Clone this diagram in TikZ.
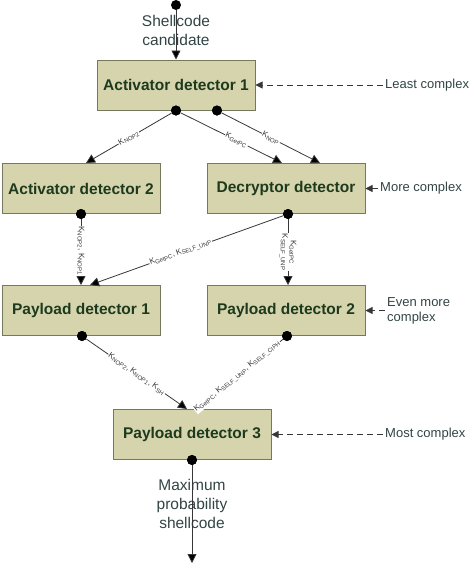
\documentclass[tikz,border=0pt]{standalone}
\usepackage{fontspec}
\setmainfont{Liberation Sans}
\usetikzlibrary{arrows.meta, positioning}

\definecolor{boxfill}{RGB}{214,212,172}
\definecolor{boxline}{RGB}{118,120,94}
\definecolor{boxtext}{RGB}{30,58,30}
\definecolor{notetext}{RGB}{50,68,68}
\definecolor{wire}{RGB}{55,55,55}

\begin{document}
\begin{tikzpicture}[x=1pt, y=-1pt]
	\tikzset {detector/.style={draw=boxline, fill=boxfill, line width=1pt, minimum width=158pt, minimum height=50pt, font=\fontsize{15.5}{18}\selectfont\bfseries, text=boxtext},
		dot/.style={circle, fill=black, inner sep=0pt, minimum size=10pt},
		flow/.style={-{Triangle[length=9pt,width=9pt]}, draw=wire, line width=0.8pt},
		key/.style={fill=white, inner sep=0.6pt, sloped, font=\fontsize{8}{8.5}\selectfont, text=wire, align=center},
		note/.style={font=\fontsize{13}{15}\selectfont, text=notetext, align=left, inner sep=2pt},
		hint/.style={-{Triangle[length=7pt,width=7pt]}, draw=wire, dash pattern=on 6pt off 4pt, line width=0.8pt},
		io/.style={font=\fontsize{15.5}{19}\selectfont, text=notetext, align=center} }
	\useasboundingbox (0,0) rectangle (474,563);

	% detectors
	\node[detector] (a1) at (176,85) {Activator detector 1};
	\node[detector] (a2) at (81,188.5) {Activator detector 2};
	\node[detector] (dc) at (286,188.5) {Decryptor detector};
	\node[detector] (p1) at (81,310.5) {Payload detector 1};
	\node[detector] (p2) at (286,310.5) {Payload detector 2};
	\node[detector] (p3) at (192,434.5) {Payload detector 3};

	% ports
	\node[dot] (in) at (176,5) {};
	\node[dot] (a1l) at (a1.south) {};
	\node[dot] (a1r) at ([xshift=41pt]a1.south) {};
	\node[dot] (a2d) at (a2.south) {};
	\node[dot] (dcd) at ([xshift=2pt]dc.south) {};
	\node[dot] (p1d) at ([xshift=1pt]p1.south) {};
	\node[dot] (p2d) at ([xshift=1pt]p2.south) {};
	\node[dot] (p3d) at (p3.south) {};
	\coordinate (out) at (192,563);

	\node[io] (cand) at (176,30.5) {Shellcode\\candidate};
	\node[io] (maxp) at (192,504) {Maximum\\probability\\shellcode};

	\draw[flow]
		(in) edge (a1)
		(a1l) edge node[key, pos=0.5] {K\textsubscript{NOP2}} ([xshift=5pt]a2.north)
		(a1l) edge node[key, pos=0.55] {K\textsubscript{GetPC}} ([xshift=-4pt]dc.north)
		(a1r) edge node[key, pos=0.5] {K\textsubscript{NOP}} ([xshift=34pt]dc.north)
		(a2d) edge node[key, pos=0.48] {K\textsubscript{NOP2}, K\textsubscript{NOP1}} (a2d |- p1.north)
		(dcd) edge node[key, pos=0.53] {K\textsubscript{GetPC}, K\textsubscript{SELF\_UNP}} ([xshift=9pt]p1.north)
		(dcd) edge node[key, pos=0.5] {K\textsubscript{GetPC}\\K\textsubscript{SELF\_UNP}} (dcd |- p2.north)
		(p1d) edge node[key, pos=0.5] {K\textsubscript{NOP2}, K\textsubscript{NOP1}, K\textsubscript{SH}} ([xshift=-5pt]p3.north)
		(p2d) edge node[key, pos=0.53] {K\textsubscript{GetPC}, K\textsubscript{SELF\_UNP}, K\textsubscript{SELF\_CIPH}} ([xshift=5pt]p3.north)
		(p3d) edge (out);

	% keep the ports on top of the labels
	\foreach \p in {a1l,a1r,a2d,dcd,p1d,p2d,p3d}
		\fill (\p) circle (5pt);

	% complexity notes
	\node[note, anchor=west] (least) at (383,85) {Least complex};
	\node[note, anchor=west] (more) at (378,188.5) {More complex};
	\node[note, anchor=west] (even) at (385,310.5) {Even more\\complex};
	\node[note, anchor=west] (most) at (383,434.5) {Most complex};

	\draw[hint] (least) -- (a1);
	\draw[hint] (more) -- (dc);
	\draw[hint] (even.west) -- (even.west -| p2.east);
	\draw[hint] (most) -- (p3);
\end{tikzpicture}
\end{document}
